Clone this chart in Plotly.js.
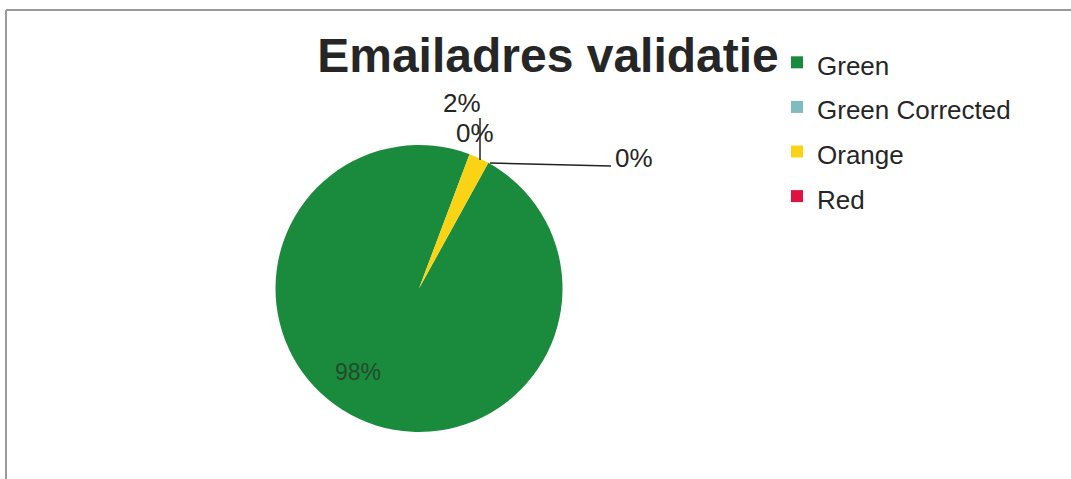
<!DOCTYPE html>
<html>
<head>
<meta charset="utf-8">
<script src="https://cdn.plot.ly/plotly-3.0.1.min.js"></script>
<style>
  html, body { margin: 0; padding: 0; background: #ffffff; }
  #chart { width: 1071px; height: 479px; }
</style>
</head>
<body>
<div id="chart"></div>
<script>
// ---- data ----
var categories = ['Green', 'Green Corrected', 'Orange', 'Red'];
var values = [97.7, 0, 2.3, 0];
var sliceColors = ['#1a8b3c', '#7fbcc0', '#fad414', '#e0123f'];
var chartTitle = 'Emailadres validatie';

// ---- helpers ----
var W = 1071, H = 479;
function px(x) { return x / W; }
function py(y) { return 1 - y / H; }
var total = values.reduce(function (a, b) { return a + b; }, 0);
function pct(i) { return Math.round(values[i] / total * 100) + '%'; }

// legend text drawn at 26px while the legend row height follows a larger base font
var legendLabels = categories.map(function (c) {
  return '<span style="font-size:26px">' + c + '</span>';
});

var trace = {
  type: 'pie',
  labels: legendLabels,
  values: values,
  marker: { colors: sliceColors, line: { width: 0 } },
  sort: false,
  direction: 'clockwise',
  rotation: 28.9,
  textinfo: 'none',
  hoverinfo: 'none',
  domain: { x: [px(275), px(563)], y: [py(432), py(145)] }
};

var labelFont = { family: 'Liberation Sans, Arial, sans-serif', size: 26, color: '#262626' };

function ann(text, x, y, font) {
  return { text: text, x: px(x), y: py(y), xref: 'paper', yref: 'paper',
           xanchor: 'center', yanchor: 'middle', showarrow: false, font: font };
}

var annotations = [
  ann(pct(0), 358, 372, { family: 'Liberation Sans, Arial, sans-serif', size: 23, color: '#24492c' }),
  ann(pct(2), 462, 103, labelFont),
  ann(pct(1), 475, 133, labelFont),
  ann(pct(3), 634, 158, labelFont)
];

var shapes = [
  // chart frame
  { type: 'line', xref: 'paper', yref: 'paper', x0: px(6), x1: px(1071), y0: py(10), y1: py(10),
    line: { color: '#9a9a9a', width: 2 } },
  { type: 'line', xref: 'paper', yref: 'paper', x0: px(6), x1: px(6), y0: py(10), y1: py(479),
    line: { color: '#9a9a9a', width: 2 } },
  // leader lines
  { type: 'line', xref: 'paper', yref: 'paper', x0: px(480), x1: px(480), y0: py(118), y1: py(160),
    line: { color: '#222222', width: 1.5 } },
  { type: 'line', xref: 'paper', yref: 'paper', x0: px(490), x1: px(611), y0: py(163), y1: py(166),
    line: { color: '#222222', width: 1.5 } }
];

var layout = {
  width: W, height: H,
  margin: { l: 0, r: 0, t: 0, b: 0 },
  paper_bgcolor: '#ffffff',
  title: {
    text: chartTitle,
    x: px(548), xanchor: 'center',
    y: py(55), yanchor: 'middle', yref: 'paper',
    font: { family: 'Liberation Sans, Arial, sans-serif', size: 48, weight: 'bold', color: '#262626' }
  },
  showlegend: true,
  legend: {
    x: px(777), xanchor: 'left',
    y: py(35), yanchor: 'top',
    font: { family: 'Liberation Sans, Arial, sans-serif', size: 32, color: '#262626' },
    bgcolor: 'rgba(0,0,0,0)',
    itemclick: false, itemdoubleclick: false
  },
  annotations: annotations,
  shapes: shapes
};

Plotly.newPlot('chart', [trace], layout, { displayModeBar: false, staticPlot: true });
</script>
</body>
</html>
